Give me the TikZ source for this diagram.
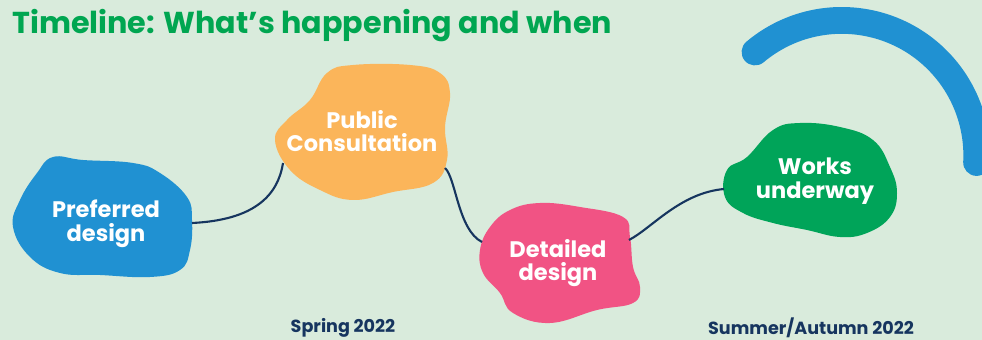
\documentclass[tikz,border=0pt]{standalone}
\usepackage{fontspec}
\setmainfont{Poppins}
\definecolor{bgmint}{HTML}{D9EBDC}
\definecolor{titlegreen}{HTML}{00A651}
\definecolor{blobblue}{HTML}{2091D2}
\definecolor{bloborange}{HTML}{FBB55A}
\definecolor{blobpink}{HTML}{F15384}
\definecolor{blobgreen}{HTML}{00A459}
\definecolor{navy}{HTML}{16355F}

\begin{document}
\begin{tikzpicture}[x=0.025cm,y=-0.025cm,
    blobtext/.style={text=white,align=center,font=\bfseries\fontsize{16}{16.8}\selectfont},
    datetext/.style={text=navy,font=\bfseries\fontsize{12.5}{14}\selectfont},
    link/.style={draw=navy,line width=1.5pt}]
  \useasboundingbox (0,0) rectangle (982,340);
  \fill[bgmint] (0,0) rectangle (982,340);

  % title
  \node[anchor=base west,inner sep=0pt,text=titlegreen,font=\bfseries\fontsize{21.5}{25}\selectfont] (title) at (12,34) {Timeline: What’s happening and when};

  % blue arc
  \draw[blobblue,line width=0.67cm,line cap=round] (755,52) arc[start angle=-130,end angle=3,radius=135];

  % blobs
  \fill[blobblue] plot[smooth cycle,tension=0.7] coordinates {(53,157) (83,160) (133,163) (160,173) (187,197) (192,220) (190,250) (180,270) (150,277) (100,275) (60,273) (30,257) (13,227) (20,200) (37,173)};
  \fill[bloborange] plot[smooth cycle,tension=0.7] coordinates {(327,73) (353,65) (410,65) (440,73) (450,93) (445,127) (447,160) (433,183) (393,192) (353,200) (320,190) (290,170) (275,140) (287,120) (310,100)};
  \fill[blobpink] plot[smooth cycle,tension=0.7] coordinates {(510,210) (540,203) (580,207) (623,217) (630,237) (633,267) (640,287) (633,303) (597,310) (550,323) (513,313) (500,293) (483,273) (480,250) (490,227)};
  \fill[blobgreen] plot[smooth cycle,tension=0.7] coordinates {(727,170) (747,157) (773,130) (800,123) (840,127) (873,140) (890,167) (897,193) (890,217) (867,233) (840,237) (807,230) (773,223) (743,213) (725,197)};

  % labels
  \node[blobtext] (pref) at (106,224) {Preferred\\design};
  \node[blobtext] (cons) at (362,131) {Public\\Consultation};
  \node[blobtext] (det) at (558,263) {Detailed\\design};
  \node[blobtext] (works) at (815,181) {Works\\underway};

  % blob edges
  \coordinate (pref-e) at (192,223);
  \coordinate (cons-sw) at (283,163);
  \coordinate (cons-se) at (445,168);
  \coordinate (det-w) at (482,242);
  \coordinate (det-e) at (629,240);
  \coordinate (works-w) at (724,189);

  \draw[link] (pref-e) .. controls (255,220) and (278,195) .. (cons-sw);
  \draw[link] (cons-se) .. controls (456,178) and (458,230) .. (det-w);
  \draw[link] (det-e) .. controls (652,228) and (680,193) .. (works-w);

  \node[datetext] (spring) at (343,328) {Spring 2022};
  \node[datetext] (summer) at (811,328) {Summer/Autumn 2022};
\end{tikzpicture}
\end{document}
